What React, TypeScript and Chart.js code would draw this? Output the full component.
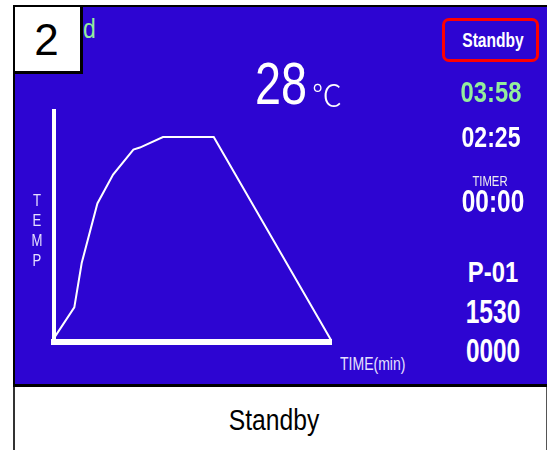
import React, { useEffect, useRef } from "react";
import { Chart, registerables } from "chart.js";

Chart.register(...registerables);

// Profile curve: time (min) vs temperature
const TIME_MIN = [0, 2.2, 3.0, 4.7, 6.4, 8.6, 9.3, 11.8, 17.3, 30];
const TEMP_C = [4, 36, 82, 144, 174, 200, 202, 213, 213, 2];
const X_MAX = 30;
const Y_MAX = 240;

const SCREEN_NO = "2";
const PARTIAL_LABEL = "d";
const CURRENT_TEMP = "28";
const TEMP_UNIT = "℃";
const STATUS = "Standby";
const CLOCK_GREEN = "03:58";
const CLOCK_WHITE = "02:25";
const TIMER_LABEL = "TIMER";
const TIMER_VALUE = "00:00";
const PROGRAM = "P-01";
const VALUE_A = "1530";
const VALUE_B = "0000";
const Y_TITLE = ["T", "E", "M", "P"];
const X_TITLE = "TIME(min)";

const BLUE = "#2d05d2";
const GREEN = "#94ee9c";
const SANS = '"Liberation Sans", Arial, sans-serif';
const N = 0.82; // horizontal condensing factor

type TxtProps = {
  text: string;
  cx?: number;
  left?: number;
  baseline: number;
  size: number;
  family?: string;
  weight?: number | string;
  color?: string;
  sx?: number;
  asc?: number;
};

function Txt({ text, cx, left, baseline, size, family = SANS, weight = 400, color = "#fff", sx = 1, asc = 0.8465 }: TxtProps) {
  const top = baseline - asc * size;
  const style: React.CSSProperties = {
    position: "absolute",
    top,
    fontSize: size,
    lineHeight: `${size}px`,
    fontFamily: family,
    fontWeight: weight as any,
    color,
    whiteSpace: "nowrap",
  };
  if (cx !== undefined) {
    style.left = cx - 150;
    style.width = 300;
    style.textAlign = "center";
    style.transform = `scaleX(${sx})`;
    style.transformOrigin = "center";
  } else {
    style.left = left;
    style.transform = `scaleX(${sx})`;
    style.transformOrigin = "left";
  }
  return <div style={style}>{text}</div>;
}

export default function App() {
  const ref = useRef<HTMLCanvasElement | null>(null);

  useEffect(() => {
    if (!ref.current) return;
    const chart = new Chart(ref.current, {
      type: "line",
      data: {
        datasets: [
          {
            data: TIME_MIN.map((t, i) => ({ x: t, y: TEMP_C[i] })),
            borderColor: "#ffffff",
            borderWidth: 2,
            pointRadius: 0,
            tension: 0,
            fill: false,
            clip: false as any,
          },
        ],
      },
      options: {
        animation: false,
        responsive: false,
        devicePixelRatio: 1,
        layout: { padding: { left: 14, right: 9, top: 11, bottom: 8 } },
        plugins: { legend: { display: false }, tooltip: { enabled: false }, title: { display: false } },
        scales: {
          x: {
            type: "linear",
            min: 0,
            max: X_MAX,
            grid: { display: false, drawTicks: false },
            ticks: { display: false },
            border: { display: true, color: "#ffffff", width: 6 },
          },
          y: {
            type: "linear",
            min: 0,
            max: Y_MAX,
            grid: { display: false, drawTicks: false },
            ticks: { display: false },
            border: { display: true, color: "#ffffff", width: 4 },
          },
        },
      },
    });
    return () => chart.destroy();
  }, []);

  return (
    <div style={{ position: "absolute", left: 0, top: 0, width: 547, height: 450, overflow: "hidden", background: "#fff" }}>
      {/* blue screen */}
      <div
        style={{
          position: "absolute",
          left: 13,
          top: 5,
          width: 534,
          height: 382,
          boxSizing: "border-box",
          background: BLUE,
          borderTop: "2px solid #000",
          borderLeft: "2px solid #000",
          borderBottom: "3px solid #000",
        }}
      />
      {/* bottom status panel */}
      <div
        style={{
          position: "absolute",
          left: 13,
          top: 387,
          width: 534,
          height: 63,
          boxSizing: "border-box",
          background: "#fff",
          borderLeft: "2px solid #333",
          borderRight: "1px solid #555",
        }}
      />
      <canvas ref={ref} width={300} height={250} style={{ position: "absolute", left: 40, top: 100, width: 300, height: 250 }} />

      <Txt text={PARTIAL_LABEL} left={83} baseline={39} size={28} color={GREEN} sx={N} />
      {/* screen number box */}
      <div
        style={{
          position: "absolute",
          left: 13,
          top: 5,
          width: 70,
          height: 69,
          boxSizing: "border-box",
          background: "#fff",
          borderTop: "2px solid #000",
          borderLeft: "2px solid #000",
          borderRight: "3px solid #000",
          borderBottom: "3px solid #000",
        }}
      />
      <Txt text={SCREEN_NO} cx={46.5} baseline={55} size={44} color="#000" />

      <Txt text={CURRENT_TEMP} left={255} baseline={105} size={60} sx={0.95 * N} />
      <Txt text={TEMP_UNIT} left={312} baseline={106} size={30} family='"Noto Sans CJK SC", "Noto Sans CJK JP", sans-serif' weight={300} asc={0.936} />

      {/* status box */}
      <div
        style={{
          position: "absolute",
          left: 442,
          top: 18,
          width: 97,
          height: 44,
          boxSizing: "border-box",
          border: "3px solid #f00",
          borderRadius: 7,
        }}
      />
      <Txt text={STATUS} cx={493} baseline={46.7} size={20} weight={700} sx={0.95 * N} />

      <Txt text={CLOCK_GREEN} cx={490.5} baseline={103} size={29} weight={700} color={GREEN} sx={N} />
      <Txt text={CLOCK_WHITE} cx={491} baseline={148} size={29} weight={700} sx={0.97 * N} />
      <Txt text={TIMER_LABEL} cx={490} baseline={186} size={14.5} color="#eee" sx={0.95 * N} />
      <Txt text={TIMER_VALUE} cx={492.5} baseline={212} size={32} weight={700} sx={0.93 * N} />
      <Txt text={PROGRAM} cx={492.5} baseline={283} size={29} weight={700} sx={N} />
      <Txt text={VALUE_A} cx={493} baseline={323} size={34} weight={700} sx={0.88 * N} />
      <Txt text={VALUE_B} cx={493} baseline={362} size={33} weight={700} sx={0.9 * N} />

      {/* axis titles */}
      {Y_TITLE.map((ch, i) => (
        <Txt key={ch} text={ch} cx={37} baseline={207 + i * 20} size={16} color="#e6e0ff" sx={N} />
      ))}
      <Txt text={X_TITLE} left={340} baseline={370} size={18} color="#e6e0ff" sx={0.95 * N} />

      <Txt text={STATUS} cx={274} baseline={431} size={29} color="#000" sx={0.85} />
    </div>
  );
}
